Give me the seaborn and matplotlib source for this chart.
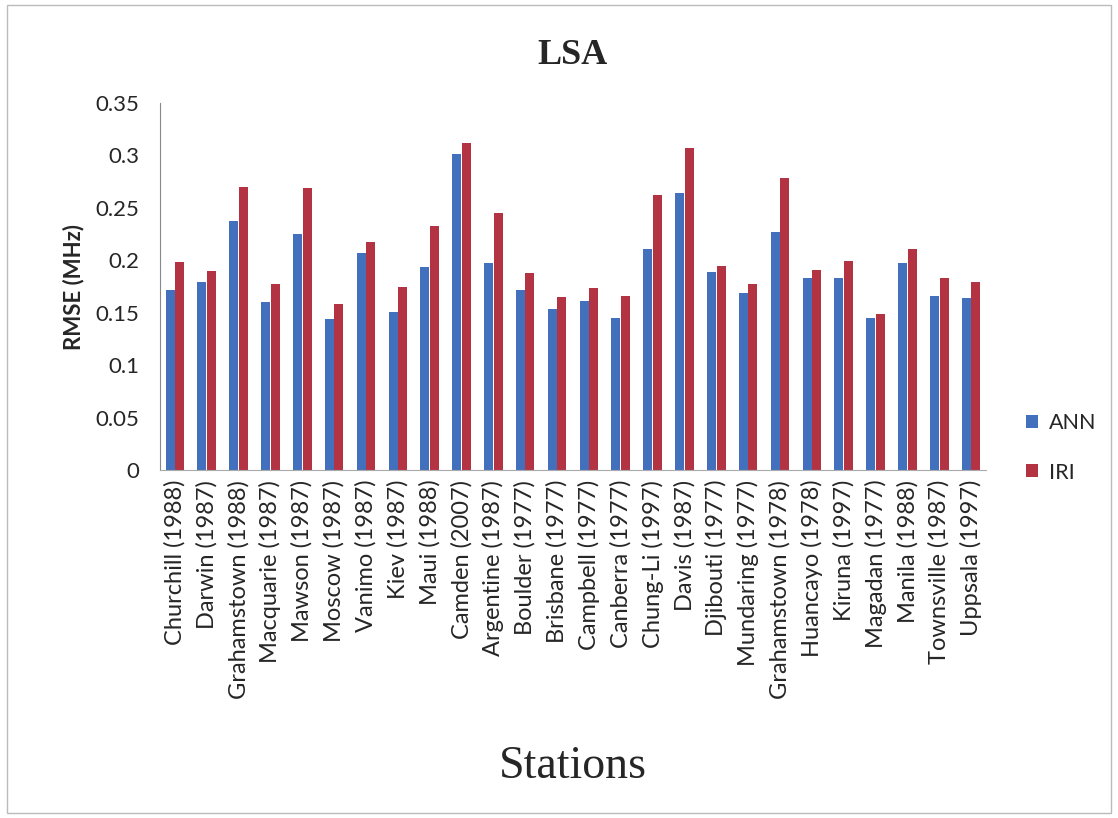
import seaborn as sns
import matplotlib.pyplot as plt
import pandas as pd
from matplotlib.ticker import FixedLocator
from matplotlib.patches import Rectangle

stations = ["Churchill (1988)", "Darwin (1987)", "Grahamstown (1988)", "Macquarie (1987)",
            "Mawson (1987)", "Moscow (1987)", "Vanimo (1987)", "Kiev (1987)", "Maui (1988)",
            "Camden (2007)", "Argentine (1987)", "Boulder (1977)", "Brisbane (1977)",
            "Campbell (1977)", "Canberra (1977)", "Chung-Li (1997)", "Davis (1987)",
            "Djibouti (1977)", "Mundaring (1977)", "Grahamstown (1978)", "Huancayo (1978)",
            "Kiruna (1997)", "Magadan (1977)", "Manila (1988)", "Townsville (1987)",
            "Uppsala (1997)"]
ann = [0.172, 0.179, 0.237, 0.160, 0.225, 0.144, 0.207, 0.151, 0.194,
       0.301, 0.197, 0.172, 0.154, 0.161, 0.145, 0.211, 0.264,
       0.189, 0.169, 0.227, 0.183, 0.183, 0.145, 0.197, 0.166, 0.164]
iri = [0.198, 0.190, 0.270, 0.177, 0.269, 0.158, 0.217, 0.175, 0.233,
       0.312, 0.245, 0.188, 0.165, 0.174, 0.166, 0.262, 0.307,
       0.195, 0.177, 0.278, 0.191, 0.199, 0.149, 0.211, 0.183, 0.179]
y_ticks = [0, 0.05, 0.1, 0.15, 0.2, 0.25, 0.3, 0.35]
y_tick_labels = ["0", "0.05", "0.1", "0.15", "0.2", "0.25", "0.3", "0.35"]

df = pd.DataFrame({
    "Station": stations * 2,
    "RMSE": ann + iri,
    "Model": ["ANN"] * len(ann) + ["IRI"] * len(iri),
})

sns.set_style("white")
plt.rcParams["font.family"] = ["Lato", "DejaVu Sans"]

fig = plt.figure(figsize=(11.18, 8.18), dpi=100)
ax = fig.add_axes([0.143, 0.4254, 0.739, 0.4487])

sns.barplot(data=df, x="Station", y="RMSE", hue="Model",
            palette={"ANN": "#2f6bd0", "IRI": "#c81e32"},
            width=0.6, gap=0.06, linewidth=0, ax=ax)

ax.set_xlim(-0.47, 25.47)
ax.set_ylim(0, 0.35)
ax.set_yticks(y_ticks)
ax.set_yticklabels(y_tick_labels, fontsize=16)
ax.tick_params(axis="y", length=0, pad=15)
ax.tick_params(axis="x", which="major", length=0, labelsize=17, rotation=90, pad=7)
ax.xaxis.set_minor_locator(FixedLocator([i - 0.5 for i in range(len(stations) + 1)]))
ax.tick_params(axis="x", which="minor", length=5, color="#999999", width=0.8)

for side in ["top", "right"]:
    ax.spines[side].set_visible(False)
ax.spines["left"].set_color("#888888")
ax.spines["left"].set_linewidth(0.8)
ax.spines["bottom"].set_color("#aaaaaa")
ax.spines["bottom"].set_linewidth(0.8)

ax.set_ylabel("RMSE (MHz)", fontsize=16, fontweight="bold", labelpad=8)
ax.set_xlabel("Stations", fontsize=33, family="Liberation Serif", labelpad=34)
ax.set_title("LSA", fontsize=26, fontweight="bold", family="Liberation Serif", pad=28)

ax.legend(loc="center left", bbox_to_anchor=(1.025, 0.06), frameon=False, fontsize=15.5,
          handlelength=0.55, handleheight=0.55, handletextpad=0.5, labelspacing=1.35)

fig.add_artist(Rectangle((0.006, 0.006), 0.988, 0.988, transform=fig.transFigure,
                         fill=False, edgecolor="#bbbbbb", linewidth=1))

fig.savefig("out.png", dpi=100)
